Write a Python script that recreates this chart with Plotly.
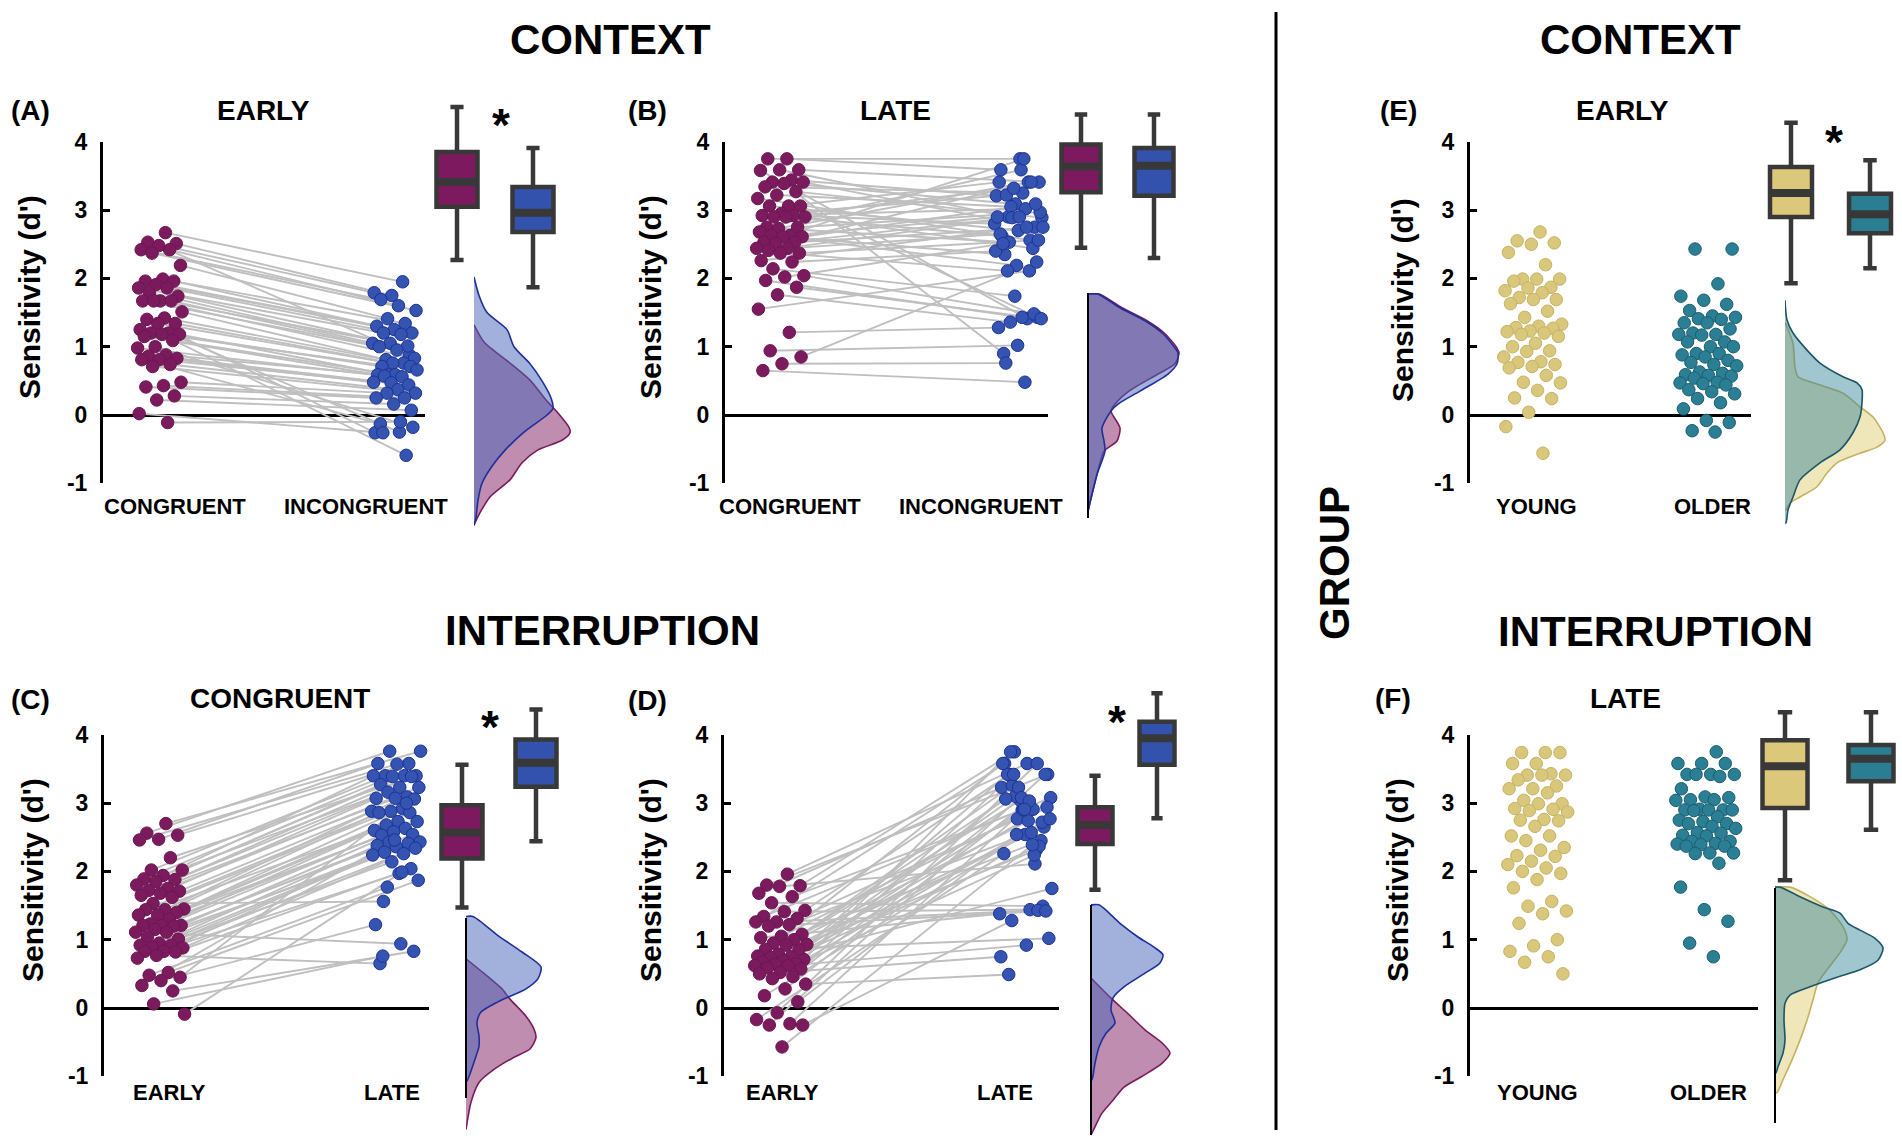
import plotly.graph_objects as go

# ======================= DATA =======================
# Sensitivity (d') values. Paired panels list the
# two conditions in participant (pair) order.
A_labels = ["CONGRUENT", "INCONGRUENT"]
A_cong = [2.67, 2.53, 2.51, 2.48, 2.42, 2.42, 2.37, 2.19, 1.99, 1.96, 1.96, 1.91, 1.86, 1.86, 1.79, 1.74,
          1.67, 1.67, 1.67, 1.67, 1.51, 1.42, 1.40, 1.34, 1.34, 1.25, 1.20, 1.20, 1.18, 1.18, 1.15, 1.09,
          1.00, 0.98, 0.88, 0.86, 0.83, 0.81, 0.81, 0.74, 0.71, 0.48, 0.43, 0.41, 0.28, 0.22, 0.02, -0.11]
A_incong = [1.95, 1.79, 1.75, 0.88, 1.69, 1.60, 1.53, 1.41, 1.34, 1.30, 1.25, 1.20, 1.20, 1.18, 1.05, 1.05,
            1.01, 1.00, 0.95, 0.83, 0.81, 0.76, -0.26, 0.76, 0.71, 0.71, -0.25, 0.66, 0.59, -0.59, 0.59, 0.59,
            -0.18, 0.57, 0.56, 0.48, 0.47, 0.44, -0.13, 0.37, 0.32, 0.32, 0.25, 0.25, 0.16, 0.07, -0.26, -0.10]

B_labels = ["CONGRUENT", "INCONGRUENT"]
B_cong = [3.75, 3.75, 3.59, 3.59, 3.58, 3.44, 3.41, 3.41, 3.39, 3.34, 3.27, 3.22, 3.17, 3.06, 3.06, 3.06,
          2.95, 2.92, 2.92, 2.90, 2.90, 2.90, 2.75, 2.75, 2.73, 2.68, 2.63, 2.63, 2.61, 2.61, 2.53, 2.53,
          2.51, 2.44, 2.44, 2.41, 2.37, 2.37, 2.26, 2.24, 2.14, 2.04, 2.02, 1.97, 1.87, 1.76, 1.55, 1.21,
          0.94, 0.85, 0.75, 0.65]
B_incong = [3.59, 3.75, 3.41, 2.90, 1.41, 3.21, 3.09, 2.75, 0.90, 3.25, 2.89, 3.05, 2.56, 3.41, 2.70, 1.43,
            3.22, 3.02, 2.80, 3.32, 2.44, 2.62, 3.59, 2.97, 2.53, 3.41, 2.90, 2.19, 3.09, 2.35, 3.75, 2.75,
            2.89, 3.41, 2.65, 2.90, 2.56, 2.11, 2.75, 2.40, 1.74, 1.48, 2.51, 1.43, 1.41, 1.36, 2.11, 1.28,
            1.02, 2.24, 0.76, 0.48]

C_labels = ["EARLY", "LATE"]
C_early = [2.70, 2.56, 2.53, 2.47, 2.46, 2.20, 2.02, 2.02, 1.94, 1.89, 1.88, 1.85, 1.80, 1.75, 1.72, 1.71,
           1.68, 1.65, 1.62, 1.53, 1.45, 1.44, 1.44, 1.40, 1.36, 1.36, 1.30, 1.23, 1.21, 1.21, 1.21, 1.20,
           1.15, 1.11, 1.11, 1.04, 1.01, 0.95, 0.92, 0.92, 0.89, 0.88, 0.83, 0.83, 0.82, 0.77, 0.73, 0.52,
           0.48, 0.45, 0.40, 0.33, 0.25, 0.06, -0.09]
C_late = [3.76, 3.76, 3.58, 3.58, 3.57, 3.40, 3.40, 3.40, 3.40, 3.39, 3.39, 3.27, 3.23, 3.23, 3.16, 3.09,
          3.07, 3.07, 3.06, 1.56, 2.92, 2.88, 2.88, 2.86, 2.86, 2.73, 2.73, 2.68, 2.63, 2.60, 2.58, 2.54,
          2.53, 0.94, 2.43, 2.43, 2.41, 2.38, 2.36, 2.34, 2.28, 2.26, 2.24, 2.14, 2.04, 0.65, 1.97, 1.87,
          1.77, 3.00, 1.22, 2.46, 0.83, 0.76, 1.99]

D_labels = ["EARLY", "LATE"]
D_early = [1.96, 1.80, 1.79, 1.78, 1.68, 1.63, 1.54, 1.43, 1.41, 1.34, 1.31, 1.26, 1.26, 1.22, 1.20, 1.08,
           1.05, 1.03, 1.00, 0.95, 0.93, 0.92, 0.86, 0.85, 0.79, 0.76, 0.75, 0.74, 0.71, 0.69, 0.67, 0.65,
           0.64, 0.62, 0.62, 0.59, 0.57, 0.52, 0.50, 0.46, 0.43, 0.35, 0.28, 0.18, 0.09, -0.07, -0.17, -0.23,
           -0.25, -0.25, -0.57]
D_late = [3.58, 3.42, 3.75, 2.11, 3.23, 2.90, 1.49, 3.42, 1.44, 3.08, 2.77, 1.43, 3.58, 2.54, 1.42, 3.26,
          2.91, 1.38, 3.04, 2.45, 3.42, 2.74, 1.02, 3.10, 2.31, 3.58, 2.90, 2.65, 3.75, 2.57, 1.75, 3.23,
          2.37, 3.06, 0.92, 2.94, 3.42, 2.24, 0.75, 3.08, 2.72, 0.49, 3.03, 2.77, 2.54, 3.58, 2.26, 2.91,
          3.42, 1.28, 2.39]

E_labels = ["YOUNG", "OLDER"]
E_young = [2.68, 2.55, 2.52, 2.50, 2.38, 2.20, 1.99, 1.99, 1.99, 1.96, 1.87, 1.86, 1.82, 1.79, 1.72, 1.69,
           1.69, 1.63, 1.52, 1.43, 1.33, 1.30, 1.28, 1.27, 1.23, 1.22, 1.20, 1.18, 1.15, 1.05, 1.00, 0.94,
           0.93, 0.85, 0.78, 0.77, 0.74, 0.71, 0.69, 0.58, 0.48, 0.47, 0.36, 0.25, 0.24, 0.04, -0.17, -0.56]
E_older = [2.43, 2.43, 1.92, 1.74, 1.68, 1.62, 1.53, 1.45, 1.43, 1.41, 1.40, 1.35, 1.35, 1.26, 1.20, 1.18,
           1.18, 1.17, 1.07, 1.07, 1.00, 1.00, 0.90, 0.90, 0.88, 0.85, 0.80, 0.77, 0.74, 0.72, 0.63, 0.61,
           0.59, 0.58, 0.57, 0.54, 0.48, 0.47, 0.46, 0.44, 0.37, 0.34, 0.31, 0.24, 0.18, 0.09, -0.08, -0.11,
           -0.23, -0.25]

F_labels = ["YOUNG", "OLDER"]
F_young = [3.74, 3.74, 3.74, 3.58, 3.58, 3.43, 3.41, 3.41, 3.41, 3.34, 3.25, 3.21, 3.21, 3.15, 3.04, 2.99,
           2.99, 2.92, 2.91, 2.89, 2.87, 2.76, 2.75, 2.74, 2.66, 2.52, 2.52, 2.45, 2.35, 2.31, 2.23, 2.22,
           2.15, 2.10, 2.05, 2.00, 1.97, 1.88, 1.76, 1.56, 1.49, 1.42, 1.38, 1.24, 1.00, 0.91, 0.83, 0.75,
           0.67, 0.50]
F_older = [3.75, 3.58, 3.58, 3.58, 3.42, 3.42, 3.42, 3.42, 3.39, 3.21, 3.09, 3.08, 3.05, 3.05, 3.04, 2.91,
           2.90, 2.90, 2.90, 2.90, 2.89, 2.80, 2.75, 2.73, 2.70, 2.70, 2.66, 2.63, 2.57, 2.56, 2.53, 2.52,
           2.44, 2.44, 2.41, 2.40, 2.39, 2.37, 2.37, 2.27, 2.27, 2.26, 2.12, 1.77, 1.44, 1.27, 0.95, 0.75]

# Box-plot insets: [lower whisker, Q1, median, Q3, upper whisker] (inset scale, d' units)
A_box = ([2.27, 3.05, 3.41, 3.85, 4.51], [1.87, 2.68, 2.96, 3.34, 3.91])
B_box = ([2.45, 3.26, 3.64, 3.96, 4.40], [2.30, 3.21, 3.65, 3.91, 4.40])
C_box = ([1.47, 2.19, 2.57, 2.97, 3.56], [2.44, 3.24, 3.59, 3.93, 4.37])
D_box = ([1.73, 2.40, 2.68, 2.94, 3.40], [2.78, 3.56, 3.95, 4.19, 4.61])
E_box = ([1.93, 2.90, 3.25, 3.63, 4.28], [2.15, 2.66, 2.94, 3.24, 3.73])
F_box = ([1.87, 2.93, 3.54, 3.92, 4.33], [2.61, 3.32, 3.65, 3.85, 4.33])

# Density insets: positions (inset scale) and density widths (arbitrary units)
A_dens1_pos = [1.32, 1.07, 0.76, 0.51, 0.22, 0.03, -0.18, -0.26, -0.37, -0.51, -0.70, -0.95, -1.20, -1.43, -1.61]
A_dens1 = [0, 10, 36, 56, 72, 84, 95, 96, 88, 64, 48, 36, 16, 6, 0]
A_dens2_pos = [2.02, 1.75, 1.50, 1.25, 1.00, 0.75, 0.50, 0.25, 0.10, 0.00, -0.25, -0.50, -0.75, -1.00, -1.25, -1.50, -1.62]
A_dens2 = [0, 5, 13, 33, 40, 56, 68, 77, 79, 73, 50, 32, 18, 8, 4, 2, 0]

B_dens_pos = [1.77, 1.57, 1.38, 1.19, 0.98, 0.91, 0.75, 0.60, 0.35, 0.16, 0.06, -0.19, -0.38, -0.53, -0.87, -1.16, -1.41]
B_dens1 = [11, 34, 59, 77, 89, 91, 87, 70, 41, 27, 23, 32, 29, 16, 9, 4, 0]
B_dens2 = [10, 32, 57, 75, 87, 90, 89, 80, 52, 30, 23, 14, 16, 17, 9, 4, 0]

C_dens1_pos = [0.72, 0.47, 0.28, 0.13, -0.12, -0.31, -0.43, -0.60, -0.72, -0.90, -1.09, -1.38, -1.78]
C_dens1 = [0, 21, 36, 44, 60, 68, 70, 64, 48, 28, 13, 5, 0]
C_dens2_pos = [1.34, 1.06, 0.82, 0.60, 0.43, 0.28, 0.09, -0.06, -0.21, -0.41, -0.56, -0.75, -1.07]
C_dens2 = [7, 32, 56, 75, 72, 60, 32, 15, 11, 13, 13, 9, 1]

D_dens1_pos = [0.44, 0.16, -0.07, -0.32, -0.51, -0.66, -0.81, -1.01, -1.16, -1.35, -1.54, -1.74, -1.86]
D_dens1 = [0, 19, 36, 54, 71, 79, 71, 50, 33, 22, 11, 4, 0]
D_dens2_pos = [1.51, 1.24, 1.04, 0.89, 0.78, 0.66, 0.51, 0.31, 0.15, -0.03, -0.22, -0.37, -0.57, -0.81, -1.05]
D_dens2 = [8, 29, 47, 63, 72, 69, 54, 33, 22, 20, 24, 15, 8, 4, 1]

E_dens1_pos = [1.36, 1.05, 0.70, 0.56, 0.44, 0.32, 0.12, -0.03, -0.26, -0.37, -0.47, -0.56, -0.70, -0.85, -1.05, -1.20, -1.29, -1.39]
E_dens1 = [0, 8, 10, 13, 35, 58, 75, 88, 98, 100, 92, 75, 52, 42, 32, 15, 5, 1]
E_dens2_pos = [1.68, 1.39, 1.20, 0.95, 0.76, 0.56, 0.47, 0.37, 0.18, -0.03, -0.26, -0.51, -0.70, -0.95, -1.20, -1.39, -1.58]
E_dens2 = [0, 2, 8, 22, 35, 58, 72, 77, 77, 75, 68, 55, 35, 15, 8, 3, 1]

F_dens1_pos = [1.77, 1.63, 1.43, 1.19, 1.00, 0.81, 0.56, 0.37, 0.12, -0.18, -0.47, -0.76, -1.05, -1.24]
F_dens1 = [15, 35, 55, 68, 72, 65, 52, 43, 38, 32, 25, 17, 8, 2]
F_dens2_pos = [1.77, 1.63, 1.48, 1.39, 1.24, 1.14, 1.02, 0.88, 0.70, 0.56, 0.45, 0.31, 0.19, 0.07, -0.18, -0.47, -0.66, -0.86, -0.95]
F_dens2 = [5, 25, 48, 65, 73, 85, 100, 108, 103, 85, 62, 35, 15, 10, 9, 10, 8, 3, 1]

Y_TICKS = [-1, 0, 1, 2, 3, 4]
HEADERS = ["CONTEXT", "INTERRUPTION", "CONTEXT", "INTERRUPTION", "GROUP"]

# ======================= STYLE / LAYOUT =======================
W, H = 1902, 1145
FONT = "Liberation Sans, Arial, Helvetica, sans-serif"
U = 68.3  # px per d' unit
BOXLINE = "#383838"
COL = {
    "mag": dict(pt="#7b1b5e", edge="#6c1652", box="#7d1a5f", fill="rgba(125,27,95,0.50)", line="#7b1b5e"),
    "blu": dict(pt="#3553b1", edge="#1c3395", box="#3352ad", fill="rgba(70,100,185,0.50)", line="#1f2f9a"),
    "yel": dict(pt="#d9c77c", edge="#c6b264", box="#dcc87a", fill="rgba(226,210,130,0.55)", line="#c3b260"),
    "tea": dict(pt="#2b7f94", edge="#1c5d6e", box="#2b7d92", fill="rgba(45,128,150,0.45)", line="#1b5566"),
}

def px(x):
    return x / W

def py(y):
    return 1 - y / H

panels = [
    dict(g=(A_cong, A_incong), labels=A_labels, paired=True, cols=("mag", "blu"), box=A_box,
         dens=((A_dens1_pos, A_dens1), (A_dens2_pos, A_dens2)), title="EARLY", tag="(A)",
         geo=dict(ax=103, xend=425, y0=415, cats=(160, 395), half=23, lab=(175, 366), laby=507,
                  title=(263, 110), tag=(30, 110), yt=(30, 297), boxes=(457, 533), bw=41,
                  base=474, bline=None, star=(501, 115), inset=(95, 540))),
    dict(g=(B_cong, B_incong), labels=B_labels, paired=True, cols=("mag", "blu"), box=B_box,
         dens=((B_dens_pos, B_dens1), (B_dens_pos, B_dens2)), title="LATE", tag="(B)",
         geo=dict(ax=725, xend=1048, y0=415, cats=(781, 1019), half=25, lab=(790, 981), laby=507,
                  title=(895, 110), tag=(647, 110), yt=(651, 297), boxes=(1081, 1154), bw=39,
                  base=1088, bline=(293, 518), star=None, inset=(95, 540))),
    dict(g=(C_early, C_late), labels=C_labels, paired=True, cols=("mag", "blu"), box=C_box,
         dens=((C_dens1_pos, C_dens1), (C_dens2_pos, C_dens2)), title="CONGRUENT", tag="(C)",
         geo=dict(ax=104, xend=429, y0=1008, cats=(160, 396), half=25, lab=(169, 392), laby=1092,
                  title=(280, 698), tag=(30, 699), yt=(32, 880), boxes=(462, 536), bw=41,
                  base=466, bline=(918, 1098), star=(490, 717), inset=(685, 1140))),
    dict(g=(D_early, D_late), labels=D_labels, paired=True, cols=("mag", "blu"), box=D_box,
         dens=((D_dens1_pos, D_dens1), (D_dens2_pos, D_dens2)), title="", tag="(D)",
         geo=dict(ax=724, xend=1059, y0=1008, cats=(781, 1026), half=27, lab=(782, 1005), laby=1092,
                  title=(900, 698), tag=(647, 700), yt=(650, 880), boxes=(1095, 1157), bw=35,
                  base=1091, bline=(905, 1135), star=(1117, 712), inset=(685, 1140))),
    dict(g=(E_young, E_older), labels=E_labels, paired=False, cols=("yel", "tea"), box=E_box,
         dens=((E_dens1_pos, E_dens1), (E_dens2_pos, E_dens2)), title="EARLY", tag="(E)",
         geo=dict(ax=1470, xend=1751, y0=415, cats=(1533, 1708), half=30, lab=(1536, 1712), laby=507,
                  title=(1622, 110), tag=(1398, 110), yt=(1403, 300), boxes=(1791, 1870), bw=42,
                  base=1785, bline=None, star=(1834, 132), inset=(95, 540))),
    dict(g=(F_young, F_older), labels=F_labels, paired=False, cols=("yel", "tea"), box=F_box,
         dens=((F_dens1_pos, F_dens1), (F_dens2_pos, F_dens2)), title="LATE", tag="(F)",
         geo=dict(ax=1470, xend=1758, y0=1008, cats=(1538, 1706), half=31, lab=(1537, 1708), laby=1092,
                  title=(1625, 698), tag=(1393, 698), yt=(1397, 880), boxes=(1785, 1871), bw=45,
                  base=1775, bline=(888, 1123), star=None, inset=(685, 1140))),
]


def jitter(n):
    # deterministic low-discrepancy spread in [-1, 1] (horizontal jitter only)
    return [(((i + 1) * 0.6180339887) % 1.0) * 2 - 1 for i in range(n)]


def sfx(i):
    return "" if i == 1 else str(i)


fig = go.Figure()
layout = dict(width=W, height=H, autosize=False,
              margin=dict(l=0, r=0, t=0, b=0, pad=0, autoexpand=False), paper_bgcolor="white",
              plot_bgcolor="rgba(0,0,0,0)", showlegend=False, annotations=[], shapes=[])

def text(s, x, y, size, angle=0, yshift=0):
    layout["annotations"].append(dict(
        text=s, x=px(x), y=py(y + yshift), xref="paper", yref="paper", showarrow=False,
        xanchor="center", yanchor="middle", textangle=angle,
        font=dict(family=FONT, size=size, color="black", weight="bold")))

for k, P in enumerate(panels):
    G = P["geo"]
    ixs, ixb, ixd = 3 * k + 1, 3 * k + 2, 3 * k + 3
    iys, iyi = 2 * k + 1, 2 * k + 2
    xs, xb, xd = "x" + sfx(ixs), "x" + sfx(ixb), "x" + sfx(ixd)
    ys, yi = "y" + sfx(iys), "y" + sfx(iyi)
    c1, c2 = G["cats"]
    d = c2 - c1
    y0 = G["y0"]

    # ---- scatter subplot axes ----
    layout["xaxis" + sfx(ixs)] = dict(domain=[px(G["ax"]), px(G["xend"])],
                                      range=[(G["ax"] - c1) / d, (G["xend"] - c1) / d],
                                      anchor=ys, visible=False, automargin=False)
    layout["yaxis" + sfx(iys)] = dict(
        domain=[py(y0 + U), py(y0 - 4 * U)], range=[-1, 4], anchor=xs, automargin=False,
        showline=True, linecolor="black", linewidth=3, ticks="inside", ticklen=7, tickwidth=3,
        tickcolor="black", tickvals=Y_TICKS, ticktext=[str(t) for t in Y_TICKS],
        tickfont=dict(family=FONT, size=23, color="black", weight="bold"), ticklabelstandoff=8,
        showgrid=False, zeroline=True, zerolinecolor="black", zerolinewidth=3)

    g1, g2 = P["g"]
    half = G["half"] / d
    x1 = [0 + j * half for j in jitter(len(g1))]
    x2 = [1 + j * half for j in jitter(len(g2))[::-1]]

    if P["paired"]:
        lx, ly = [], []
        for a, b, va, vb in zip(x1, x2, g1, g2):
            lx += [a, b, None]
            ly += [va, vb, None]
        fig.add_trace(go.Scatter(x=lx, y=ly, mode="lines", xaxis=xs, yaxis=ys, hoverinfo="skip",
                                 line=dict(color="#bfbfbf", width=1.9), cliponaxis=False))

    for xv, vals, cname in ((x1, g1, P["cols"][0]), (x2, g2, P["cols"][1])):
        C = COL[cname]
        fig.add_trace(go.Scatter(x=xv, y=vals, mode="markers", xaxis=xs, yaxis=ys, cliponaxis=False,
                                 marker=dict(size=12.5, color=C["pt"], line=dict(color=C["edge"], width=1))))

    # ---- inset axes (box plots + densities) ----
    itop, ibot = G["inset"]
    layout["yaxis" + sfx(iyi)] = dict(domain=[py(ibot), py(itop)], automargin=False,
                                      range=[(y0 - ibot) / U, (y0 - itop) / U], anchor=xb, visible=False)
    b1, b2 = G["boxes"]
    bd = b2 - b1
    layout["xaxis" + sfx(ixb)] = dict(domain=[px(b1 - 0.35 * bd), px(min(b2 + 0.35 * bd, W))], automargin=False,
                                      range=[-0.35, (min(b2 + 0.35 * bd, W) - b1) / bd], anchor=yi, visible=False)
    dright = min(G["base"] + 125, W - 2)
    layout["xaxis" + sfx(ixd)] = dict(domain=[px(G["base"]), px(dright)], range=[0, dright - G["base"]],
                                      anchor=yi, visible=False, automargin=False)

    bw = G["bw"] / bd
    for pos, stats, cname in ((0, P["box"][0], P["cols"][0]), (1, P["box"][1], P["cols"][1])):
        C = COL[cname]
        lo, q1, med, q3, hi = stats
        fig.add_trace(go.Box(x=[pos], q1=[q1], median=[med], q3=[q3], lowerfence=[lo], upperfence=[hi],
                             width=bw, whiskerwidth=0.32, fillcolor=C["box"], boxpoints=False,
                             line=dict(color=BOXLINE, width=4.5), xaxis=xb, yaxis=yi, hoverinfo="skip"))
        fig.add_trace(go.Scatter(x=[pos - bw * 0.47, pos + bw * 0.47], y=[med, med], mode="lines",
                                 xaxis=xb, yaxis=yi, hoverinfo="skip",
                                 line=dict(color=BOXLINE, width=8)))

    for (pos, wid), cname in zip(P["dens"], P["cols"]):
        C = COL[cname]
        fig.add_trace(go.Scatter(x=[0] + list(wid) + [0], y=[pos[0]] + list(pos) + [pos[-1]],
                                 mode="lines", fill="toself", fillcolor=C["fill"], xaxis=xd, yaxis=yi,
                                 hoverinfo="skip", line=dict(color=C["line"], width=1.6, shape="spline",
                                                             smoothing=0.7)))

    if G["bline"]:
        t, b = G["bline"]
        layout["shapes"].append(dict(type="line", xref="paper", yref="paper",
                                     x0=px(G["base"]), x1=px(G["base"]), y0=py(t), y1=py(b),
                                     line=dict(color="black", width=2)))

    # ---- texts ----
    for lab, lx_ in zip(P["labels"], G["lab"]):
        text(lab, lx_, G["laby"], 22)
    if P["title"]:
        text(P["title"], G["title"][0], G["title"][1], 28)
    text(P["tag"], G["tag"][0], G["tag"][1], 28)
    text("Sensitivity (d')", G["yt"][0], G["yt"][1], 30, angle=-90)
    if G["star"]:
        text("*", G["star"][0], G["star"][1], 46, yshift=10)

# headers
text(HEADERS[0], 610, 40, 42)
text(HEADERS[1], 602, 630, 42)
text(HEADERS[2], 1640, 40, 42)
text(HEADERS[3], 1655, 631, 42)
text(HEADERS[4], 1334, 563, 42, angle=-90)

layout["shapes"].append(dict(type="line", xref="paper", yref="paper", x0=px(1276), x1=px(1276),
                             y0=py(12), y1=py(1130), line=dict(color="black", width=3)))

fig.update_layout(**layout)
fig.write_html("out.html", config={"displayModeBar": False, "responsive": False},
               post_script="document.body.style.margin='0px';")
